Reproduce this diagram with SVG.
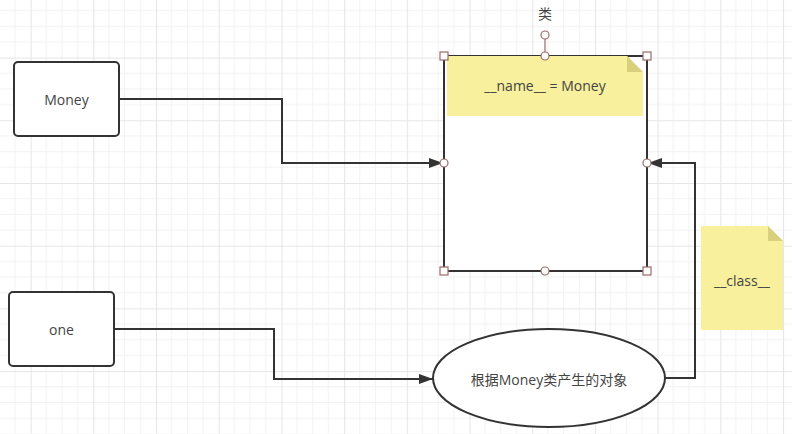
<svg xmlns="http://www.w3.org/2000/svg" width="792" height="434" viewBox="0 0 792 434">
  <defs>
    <pattern id="grid" patternUnits="userSpaceOnUse" x="30.6" y="57.6" width="62.7" height="62.7">
      <path d="M15.675 0V62.7M31.35 0V62.7M47.025 0V62.7M0 15.675H62.7M0 31.35H62.7M0 47.025H62.7" stroke="#f2f2f2" stroke-width="1" fill="none"/>
      <path d="M0.5 0V62.7M0 0.5H62.7" stroke="#e6e6e6" stroke-width="1.2" fill="none"/>
    </pattern>
    <marker id="arrow" viewBox="0 0 14 10" refX="14" refY="5" markerWidth="14" markerHeight="10" markerUnits="userSpaceOnUse" orient="auto">
      <path d="M0 0L14 5L0 10z" fill="#333"/>
    </marker>
  </defs>
  <style>
    .box { fill: #fff; stroke: #333; stroke-width: 2; }
    .conn { fill: none; stroke: #333; stroke-width: 2; }
    .txt { font-family: "Open Sans", "Noto Sans CJK SC", sans-serif; font-size: 14px; fill: #444; text-anchor: middle; dominant-baseline: central; }
    .note { fill: #f8f09c; }
    .fold { fill: #d9d07e; }
    .handle { fill: #fff; stroke: #9a6a6a; stroke-width: 1.2; }
  </style>
  <rect width="792" height="434" fill="#fff"/>
  <rect width="792" height="434" fill="url(#grid)"/>

  <g id="connectors">
    <path class="conn" d="M119 99H282V163H443" marker-end="url(#arrow)"/>
    <path class="conn" d="M114 329H274V379H433" marker-end="url(#arrow)"/>
    <path class="conn" d="M665 378H695V163H648" marker-end="url(#arrow)"/>
  </g>

  <g id="money">
    <rect class="box" x="14" y="62" width="105" height="74" rx="4"/>
    <text class="txt" x="66.5" y="99">Money</text>
  </g>

  <g id="one">
    <rect class="box" x="9" y="292" width="105" height="74" rx="4"/>
    <text class="txt" x="61.5" y="329">one</text>
  </g>

  <g id="class-box">
    <rect class="box" x="444" y="56" width="203" height="215"/>
    <g id="name-note">
      <polygon class="note" points="447,56 627,56 643,72 643,116 447,116"/>
      <polygon class="fold" points="627,56 627,72 643,72"/>
      <text class="txt" x="545" y="85">__name__ = Money</text>
    </g>
    <text class="txt" x="545" y="13" fill="#555">类</text>
    <line x1="545" y1="39" x2="545" y2="52" stroke="#9a6a6a" stroke-width="1.2"/>
    <circle class="handle" cx="545" cy="35" r="4"/>
    <circle class="handle" cx="545" cy="56" r="4"/>
    <circle class="handle" cx="444" cy="163" r="4"/>
    <circle class="handle" cx="647" cy="163" r="4"/>
    <circle class="handle" cx="545" cy="271" r="4"/>
    <rect class="handle" x="440" y="52" width="8" height="8"/>
    <rect class="handle" x="643" y="52" width="8" height="8"/>
    <rect class="handle" x="440" y="267" width="8" height="8"/>
    <rect class="handle" x="643" y="267" width="8" height="8"/>
  </g>

  <g id="object">
    <ellipse class="box" cx="549" cy="378" rx="116" ry="49"/>
    <text class="txt" x="549" y="379">根据Money类产生的对象</text>
  </g>

  <g id="class-note">
    <polygon class="note" points="701,226 768,226 783,241 783,330 701,330"/>
    <polygon class="fold" points="768,226 768,241 783,241"/>
    <text class="txt" x="742" y="280">__class__</text>
  </g>
</svg>
